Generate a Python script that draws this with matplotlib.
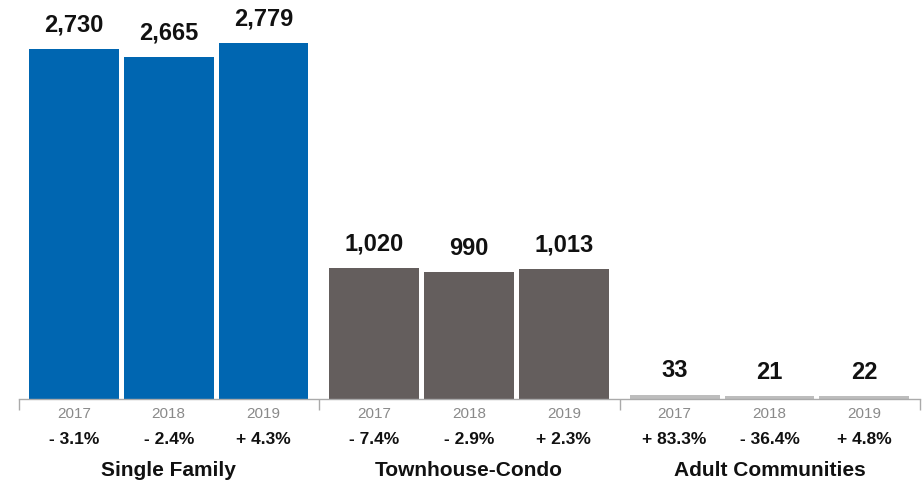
import matplotlib
matplotlib.use("Agg")
import matplotlib.pyplot as plt
from matplotlib.transforms import blended_transform_factory

groups = ["Single Family", "Townhouse-Condo", "Adult Communities"]
years = ["2017", "2018", "2019"]
single_family = [2730, 2665, 2779]
townhouse_condo = [1020, 990, 1013]
adult_communities = [33, 21, 22]
sf_pct = ["- 3.1%", "- 2.4%", "+ 4.3%"]
tc_pct = ["- 7.4%", "- 2.9%", "+ 2.3%"]
ac_pct = ["+ 83.3%", "- 36.4%", "+ 4.8%"]
colors = ["#0066B1", "#645E5D", "#BDBDBD"]

values = [single_family, townhouse_condo, adult_communities]
pcts = [sf_pct, tc_pct, ac_pct]

plt.rcParams['font.family'] = ['Liberation Sans', 'DejaVu Sans']

fig = plt.figure(figsize=(9.24, 4.83), dpi=100)
ax = fig.add_axes([19/924, 84/483, 901/924, 399/483])

group_step = 301/95
first = (74-19)/95
width = 90/95

trans = blended_transform_factory(ax.transData, ax.transAxes)

for g in range(3):
    xs = [first + g*group_step + j for j in range(3)]
    ax.bar(xs, values[g], width=width, color=colors[g], zorder=2)
    for j, x in enumerate(xs):
        ax.annotate(f"{values[g][j]:,}", xy=(x, values[g][j]), xytext=(0, 17.3),
                    textcoords="offset points", ha="center", va="center",
                    fontsize=17, fontweight="bold", color="#111111")
        ax.annotate(years[j], xy=(x, 0), xycoords=trans, xytext=(0, -10.5),
                    textcoords="offset points", ha="center", va="center",
                    fontsize=11, color="#8a8a8a")
        ax.annotate(pcts[g][j], xy=(x, 0), xycoords=trans, xytext=(0, -29.5),
                    textcoords="offset points", ha="center", va="center",
                    fontsize=12.5, fontweight="bold", color="#111111")
    ax.annotate(groups[g], xy=(xs[1], 0), xycoords=trans, xytext=(0, -51.5),
                textcoords="offset points", ha="center", va="center",
                fontsize=15, fontweight="bold", color="#111111")

ax.set_xlim(0, 901/95)
ax.set_ylim(0, 399/(350/2730))
for s in ["top", "right", "left"]:
    ax.spines[s].set_visible(False)
ax.spines["bottom"].set_color("#aaaaaa")
ax.spines["bottom"].set_linewidth(1)
ax.set_yticks([])
ax.set_xticks([0, group_step, 2*group_step, 3*group_step - 0.002])
ax.set_xticklabels([])
ax.tick_params(axis="x", length=8, color="#aaaaaa", width=1, direction="out")

fig.savefig("out.png", dpi=100)
